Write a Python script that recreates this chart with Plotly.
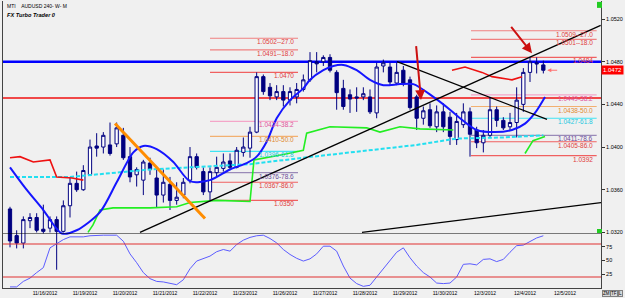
import plotly.graph_objects as go

# ---------------- data ----------------
day_labels = ["11/16/2012", "11/19/2012", "11/20/2012", "11/21/2012", "11/22/2012",
              "11/23/2012", "11/26/2012", "11/27/2012", "11/28/2012", "11/29/2012",
              "11/30/2012", "12/3/2012", "12/4/2012", "12/5/2012"]

opens = [1.0342, 1.0317, 1.0310, 1.0331, 1.0334, 1.0323, 1.0324, 1.0332, 1.0321, 1.0345,
         1.0366, 1.0360, 1.0374, 1.0401, 1.0400, 1.0402, 1.0403, 1.0411, 1.0391, 1.0374,
         1.0369, 1.0385, 1.0371, 1.0355, 1.0365, 1.0350, 1.0355, 1.0369, 1.0391, 1.0377,
         1.0358, 1.0376, 1.0380, 1.0387, 1.0381, 1.0395, 1.0399, 1.0414, 1.0466, 1.0456,
         1.0447, 1.0452, 1.0444, 1.0447, 1.0454, 1.0463, 1.0480, 1.0480, 1.0484, 1.0470,
         1.0455, 1.0449, 1.0447, 1.0447, 1.0447, 1.0432, 1.0476, 1.0475, 1.0460, 1.0472,
         1.0463, 1.0447, 1.0427, 1.0435, 1.0419, 1.0433, 1.0428, 1.0407, 1.0421, 1.0433,
         1.0416, 1.0404, 1.0411, 1.0435, 1.0425, 1.0419, 1.0423, 1.0440, 1.0470, 1.0479,
         1.0477]
highs = [1.0344, 1.0322, 1.0335, 1.0338, 1.0338, 1.0346, 1.0335, 1.0335, 1.0350, 1.0372,
         1.0377, 1.0383, 1.0407, 1.0413, 1.0414, 1.0423, 1.0423, 1.0418, 1.0400, 1.0381,
         1.0388, 1.0390, 1.0379, 1.0379, 1.0372, 1.0367, 1.0371, 1.0400, 1.0394, 1.0381,
         1.0381, 1.0391, 1.0394, 1.0394, 1.0400, 1.0409, 1.0419, 1.0470, 1.0468, 1.0460,
         1.0458, 1.0458, 1.0456, 1.0460, 1.0468, 1.0489, 1.0489, 1.0486, 1.0487, 1.0472,
         1.0463, 1.0454, 1.0456, 1.0456, 1.0454, 1.0479, 1.0482, 1.0479, 1.0479, 1.0476,
         1.0466, 1.0449, 1.0438, 1.0441, 1.0439, 1.0441, 1.0433, 1.0432, 1.0441, 1.0437,
         1.0419, 1.0416, 1.0447, 1.0438, 1.0428, 1.0432, 1.0456, 1.0474, 1.0484, 1.0484,
         1.0481]
lows = [1.0306, 1.0305, 1.0305, 1.0324, 1.0320, 1.0319, 1.0320, 1.0285, 1.0320, 1.0334,
        1.0358, 1.0359, 1.0373, 1.0391, 1.0394, 1.0392, 1.0400, 1.0388, 1.0367, 1.0363,
        1.0355, 1.0374, 1.0343, 1.0348, 1.0341, 1.0346, 1.0352, 1.0366, 1.0379, 1.0355,
        1.0350, 1.0372, 1.0377, 1.0379, 1.0380, 1.0391, 1.0390, 1.0413, 1.0449, 1.0444,
        1.0444, 1.0438, 1.0439, 1.0441, 1.0452, 1.0461, 1.0470, 1.0476, 1.0470, 1.0435,
        1.0435, 1.0432, 1.0433, 1.0444, 1.0431, 1.0427, 1.0470, 1.0458, 1.0458, 1.0457,
        1.0435, 1.0416, 1.0421, 1.0418, 1.0414, 1.0414, 1.0402, 1.0402, 1.0418, 1.0391,
        1.0399, 1.0395, 1.0409, 1.0419, 1.0416, 1.0416, 1.0409, 1.0433, 1.0461, 1.0469,
        1.0469]
closes = [1.0312, 1.0310, 1.0332, 1.0334, 1.0322, 1.0321, 1.0332, 1.0321, 1.0345, 1.0366,
          1.0360, 1.0378, 1.0400, 1.0399, 1.0411, 1.0394, 1.0418, 1.0390, 1.0372, 1.0379,
          1.0386, 1.0379, 1.0355, 1.0367, 1.0350, 1.0353, 1.0367, 1.0391, 1.0381, 1.0358,
          1.0377, 1.0381, 1.0386, 1.0381, 1.0397, 1.0400, 1.0414, 1.0466, 1.0452, 1.0448,
          1.0452, 1.0444, 1.0452, 1.0454, 1.0463, 1.0481, 1.0478, 1.0484, 1.0472, 1.0451,
          1.0438, 1.0445, 1.0446, 1.0450, 1.0433, 1.0475, 1.0479, 1.0461, 1.0470, 1.0460,
          1.0437, 1.0427, 1.0434, 1.0420, 1.0433, 1.0419, 1.0410, 1.0424, 1.0433, 1.0412,
          1.0404, 1.0411, 1.0435, 1.0425, 1.0418, 1.0423, 1.0444, 1.0470, 1.0480, 1.0478,
          1.0472]

# smooth blue indicator (bar index, price)
blue_idx = [0, 2.25, 5, 7.8, 10, 13.5, 16, 18.5, 20, 22, 24.5, 27, 30, 33, 35.5, 37, 38.5,
            40, 42, 44, 45, 47, 48.5, 50, 52, 54, 56, 58.5, 60.5, 63.5, 66, 67.5, 70, 72.75,
            75.3, 77.25, 78.75, 80.25]
blue_val = [1.0381, 1.0362, 1.0341, 1.0319, 1.0322, 1.0339, 1.0367, 1.0395, 1.0401, 1.0398,
            1.0386, 1.0368, 1.0369, 1.0379, 1.0385, 1.0391, 1.0405, 1.0427, 1.0444, 1.0455,
            1.0463, 1.0472, 1.0476, 1.0477, 1.0472, 1.0463, 1.0458, 1.0459, 1.0459, 1.0447,
            1.0435, 1.0427, 1.0416, 1.0414, 1.0416, 1.0422, 1.0432, 1.0447]

# cyan moving average
cyan_idx = [0, 9, 21, 30, 36, 44, 51, 61, 67, 74, 80]
cyan_val = [1.0372, 1.0372, 1.0379, 1.0382, 1.0384, 1.0390, 1.0395, 1.0402, 1.0408, 1.0409, 1.0411]

# trailing stop lines (green = support, red = resistance)
green1_idx = [11.7, 12.45, 13.5, 15.45, 21, 25, 27, 31, 36, 36.6, 41, 44, 44.5, 48, 53.5,
              55.5, 58.5, 61.5, 66.5]
green1_val = [1.0320, 1.0327, 1.0341, 1.0343, 1.0343, 1.0344, 1.0348, 1.0350, 1.0349, 1.0388,
              1.0393, 1.0397, 1.0413, 1.0419, 1.0418, 1.0414, 1.0419, 1.0417, 1.0416]
green2_idx = [77.25, 78.45, 80.25]
green2_val = [1.0394, 1.0406, 1.0410]
red1_idx = [0, 1.5, 3.5, 6, 7, 9.3, 11]
red1_val = [1.0390, 1.0391, 1.0386, 1.0388, 1.0372, 1.0371, 1.0369]
red2_idx = [66.3, 68.25, 70.8, 72.3, 75.3, 76.8]
red2_val = [1.0472, 1.0475, 1.0470, 1.0466, 1.0463, 1.0466]

# trend lines
t1_idx, t1_val = [19.5, 88.6], [1.0320, 1.0514]
t2_idx, t2_val = [52.8, 88.65], [1.0320, 1.0348]
t3_idx, t3_val = [58.05, 80.55], [1.0480, 1.0426]
orange_idx, orange_val = [15.75, 29.25], [1.0422, 1.0333]

# horizontal levels
blue_level = 1.0480
red_level = 1.0446

# fibonacci set A
fibA_span = [30, 43.2]
fibA_prices = [1.0502, 1.0491, 1.0470, 1.0424, 1.0410, 1.0396, 1.0376, 1.0367, 1.0350]
fibA_labels = ["1.0502--27.0", "1.0491--18.0", "1.0470", "1.0424-38.2", "1.0410-50.0",
               "1.0396-61.8", "1.0376-78.6", "1.0367-86.0", "1.0350"]
# fibonacci set B
fibB_span = [69.15, 88.0]
fibB_prices = [1.0509, 1.0501, 1.0484, 1.0449, 1.0438, 1.0427, 1.0411, 1.0405, 1.0392]
fibB_labels = ["1.0509--27.0", "1.0501--18.0", "1.0484", "1.0449-38.2", "1.0438-50.0",
               "1.0427-61.8", "1.0411-78.6", "1.0405-86.0", "1.0392"]

# arrows (start idx, start price) -> (end idx, end price)
arrows = [(60.9, 1.0496, 61.65, 1.0444),
          (75.0, 1.0514, 78.3, 1.0488)]
small_arrow = (82.3, 1.0472, 80.6, 1.0472)

# oscillator (lower panel)
osc = [2, 2, 12, 18, 28, 37, 73, 80, 88, 93, 93, 93, 95, 96, 96, 96, 96, 85, 62, 46,
       28, 17, 12, 11, 9, 6, 15, 35, 49, 54, 58, 66, 70, 67, 79, 87, 92, 95, 96, 90,
       82, 70, 61, 54, 49, 53, 62, 76, 76, 67, 40, 18, 8, 3, 5, 20, 35, 52, 65, 73,
       55, 40, 28, 20, 9, 8, 9, 20, 43, 44, 42, 52, 53, 48, 52, 65, 77, 78, 85, 91, 95]
osc_levels = [80, 20]
osc_ticks = [25, 50, 75]
price_ticks = [1.0320, 1.0360, 1.0400, 1.0440, 1.0480, 1.0520]
corner_buttons = ["ZM", "TF", "L"]

# ---------------- styles / layout ----------------
NAVY = "#000080"
BG = "#f0f0f0"
FONT = "Liberation Sans, Arial, sans-serif"
fib_line = ["#f08080", "#f08080", "#f06060", "#f4a6c8", "#f2b070", "#40e4f4",
            "#9a8ab8", "#f06060", "#f06060"]
fib_text = ["#e03c3c", "#e03c3c", "#e03c3c", "#e0509a", "#e08a30", "#20c8e0",
            "#6a4a98", "#e03c3c", "#e03c3c"]

W, H = 625, 298
L, R, T, B = 3, 24, 1, 10
plot_h = H - T - B
plot_w = W - L - R
x_range = [-1.05, 88.65]
y_range = [1.02679, 1.05369]
osc_top_frac = (H - B - 233) / plot_h

idx = list(range(len(opens)))

fig = go.Figure()

fig.add_trace(go.Candlestick(
    x=idx, open=opens, high=highs, low=lows, close=closes,
    increasing=dict(line=dict(color=NAVY, width=1), fillcolor="#ffffff"),
    decreasing=dict(line=dict(color=NAVY, width=1), fillcolor=NAVY),
    whiskerwidth=0, hoverinfo="skip", showlegend=False))

fig.add_trace(go.Scatter(x=cyan_idx, y=cyan_val, mode="lines",
                         line=dict(color="#22dff0", width=2, dash="4px,2px"),
                         hoverinfo="skip", showlegend=False))
for gx, gy in [(green1_idx, green1_val), (green2_idx, green2_val)]:
    fig.add_trace(go.Scatter(x=gx, y=gy, mode="lines",
                             line=dict(color="#22ee22", width=1.6),
                             hoverinfo="skip", showlegend=False))
for rx, ry in [(red1_idx, red1_val), (red2_idx, red2_val)]:
    fig.add_trace(go.Scatter(x=rx, y=ry, mode="lines",
                             line=dict(color="#ee1111", width=1.6),
                             hoverinfo="skip", showlegend=False))
fig.add_trace(go.Scatter(x=blue_idx, y=blue_val, mode="lines",
                         line=dict(color="#1515ff", width=2, shape="spline", smoothing=0.8),
                         hoverinfo="skip", showlegend=False))
for tx, ty in [(t1_idx, t1_val), (t2_idx, t2_val), (t3_idx, t3_val)]:
    fig.add_trace(go.Scatter(x=tx, y=ty, mode="lines",
                             line=dict(color="#000000", width=1.3),
                             hoverinfo="skip", showlegend=False))
fig.add_trace(go.Scatter(x=orange_idx, y=orange_val, mode="lines",
                         line=dict(color="#ff8c00", width=3),
                         hoverinfo="skip", showlegend=False))

# oscillator
fig.add_trace(go.Scatter(x=idx, y=osc, mode="lines", yaxis="y2",
                         line=dict(color="#5c5cff", width=1),
                         hoverinfo="skip", showlegend=False))

shapes = []
shapes.append(dict(type="line", xref="x", yref="y", x0=x_range[0], x1=x_range[1],
                   y0=blue_level, y1=blue_level, line=dict(color="#0000ff", width=2.5),
                   layer="below"))
shapes.append(dict(type="line", xref="x", yref="y", x0=x_range[0], x1=x_range[1],
                   y0=red_level, y1=red_level, line=dict(color="#f04848", width=2),
                   layer="below"))
annotations = []
for span, prices, labels in [(fibA_span, fibA_prices, fibA_labels),
                             (fibB_span, fibB_prices, fibB_labels)]:
    for p, lab, lc, tc in zip(prices, labels, fib_line, fib_text):
        shapes.append(dict(type="line", xref="x", yref="y", x0=span[0], x1=span[1],
                           y0=p, y1=p, line=dict(color=lc, width=1.2), layer="below"))
        annotations.append(dict(x=span[1] - 0.3, y=p, xref="x", yref="y", text=lab,
                                showarrow=False, xanchor="right", yanchor="top", yshift=2,
                                font=dict(family=FONT, size=6.5, color=tc)))

# oscillator separator & levels
shapes.append(dict(type="line", xref="paper", yref="y2", x0=0, x1=1, y0=100, y1=100,
                   line=dict(color="#000000", width=1)))
for lv in osc_levels:
    shapes.append(dict(type="line", xref="paper", yref="y2", x0=0, x1=1, y0=lv, y1=lv,
                       line=dict(color="#e03030", width=1)))
# green corner markers
shapes.append(dict(type="rect", xref="paper", yref="paper", x0=0.9933, x1=1.0017,
                   y0=0.976, y1=0.997, line=dict(width=0), fillcolor="#22cc22"))
shapes.append(dict(type="rect", xref="paper", yref="paper", x0=0.9933, x1=1.0017,
                   y0=osc_top_frac, y1=osc_top_frac + 0.014, line=dict(width=0),
                   fillcolor="#22cc22"))

# arrows
for sx, sy, ex, ey in arrows:
    annotations.append(dict(x=ex, y=ey, ax=sx, ay=sy, xref="x", yref="y", axref="x",
                            ayref="y", showarrow=True, arrowhead=2, arrowsize=1,
                            arrowwidth=2, arrowcolor="#cc1010", text=""))
sx, sy, ex, ey = small_arrow
annotations.append(dict(x=ex, y=ey, ax=sx, ay=sy, xref="x", yref="y", axref="x",
                        ayref="y", showarrow=True, arrowhead=2, arrowsize=0.8,
                        arrowwidth=1, arrowcolor="#ff7070", text=""))

# current price tag
annotations.append(dict(x=1, y=closes[-1], xref="paper", yref="y", xanchor="left",
                        text=f"{closes[-1]:.4f}", showarrow=False, bgcolor="#ff0000",
                        borderpad=1, font=dict(family=FONT, size=6, color="#ffffff")))
# header texts
annotations.append(dict(x=0, y=1, xref="paper", yref="paper", xanchor="left",
                        yanchor="top", xshift=2, yshift=0, showarrow=False,
                        text="MTI&nbsp;&nbsp;&nbsp;&nbsp;AUDUSD 240- W- M",
                        font=dict(family=FONT, size=5, color="#000000")))
annotations.append(dict(x=0, y=1, xref="paper", yref="paper", xanchor="left",
                        yanchor="top", xshift=2, yshift=-9, showarrow=False,
                        text="<b><i>FX Turbo Trader 0</i></b>",
                        font=dict(family=FONT, size=5.6, color="#000000")))
# small corner buttons (bottom right)
for k, lab in enumerate(corner_buttons):
    annotations.append(dict(x=1, y=0, xref="paper", yref="paper", xanchor="left",
                            yanchor="top", xshift=1 + 8 * k, yshift=-2, showarrow=False,
                            text=lab, bgcolor="#d8d8d8", bordercolor="#808080",
                            borderwidth=1, borderpad=0,
                            font=dict(family=FONT, size=4.5, color="#000000")))

fig.update_layout(
    width=W, height=H,
    margin=dict(l=L, r=R, t=T, b=B),
    paper_bgcolor=BG, plot_bgcolor="rgba(0,0,0,0)",
    showlegend=False, boxgap=0.3,
    xaxis=dict(range=x_range, rangeslider=dict(visible=False), showgrid=False,
               zeroline=False, tickvals=[5.25 + 6 * k for k in range(len(day_labels))],
               ticktext=day_labels, tickfont=dict(family=FONT, size=5, color="#000"),
               ticks="", showline=True, linecolor="#444", linewidth=1, anchor="y"),
    yaxis=dict(range=y_range, domain=[0, 1], side="right", showgrid=False, zeroline=False,
               tickvals=price_ticks, ticktext=[f"{v:.4f}" for v in price_ticks],
               tickfont=dict(family=FONT, size=5.5, color="#000"), ticks="outside",
               ticklen=3, tickcolor="#333", showline=True, mirror=True,
               linecolor="#444", linewidth=1),
    yaxis2=dict(range=[0, 100], domain=[0, osc_top_frac], side="right", anchor="x",
                showgrid=False, zeroline=False, tickvals=osc_ticks,
                ticktext=[str(v) for v in osc_ticks],
                tickfont=dict(family=FONT, size=5.5, color="#000"), ticks="outside",
                ticklen=3, tickcolor="#333"),
    shapes=shapes, annotations=annotations,
)

fig.write_html("out.html")
